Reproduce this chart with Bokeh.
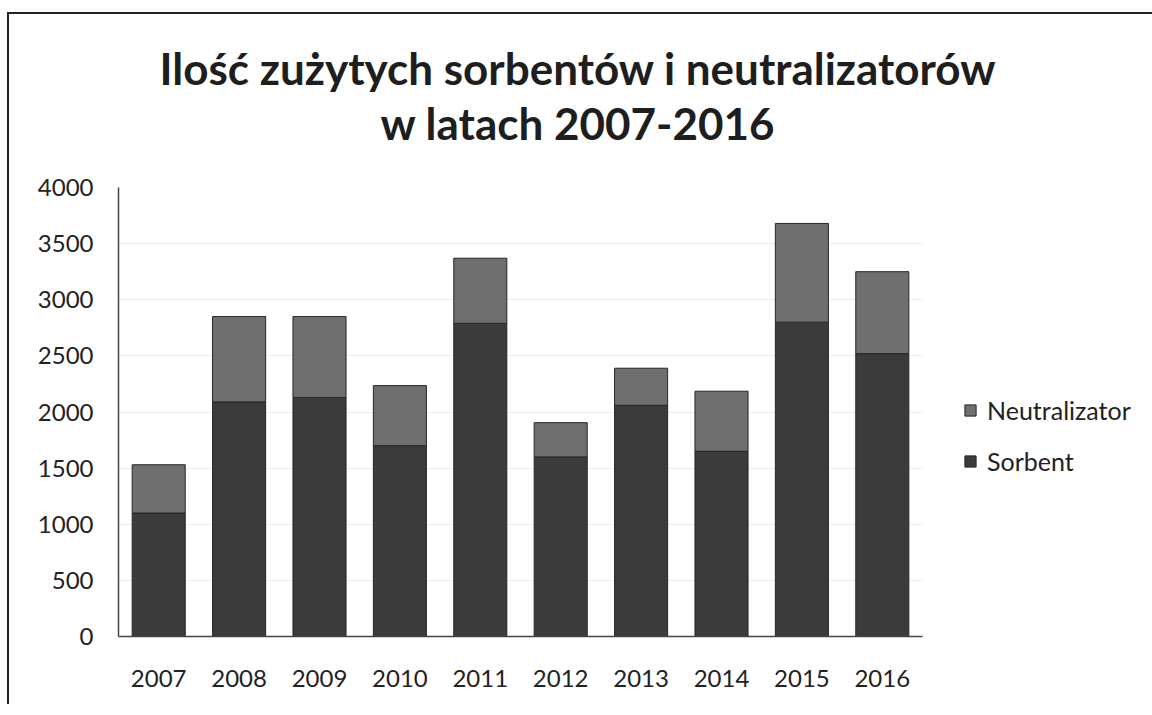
from bokeh.plotting import figure
from bokeh.models import ColumnDataSource, FactorRange, Range1d, Legend, LegendItem, Title
from bokeh.embed import file_html
from bokeh.resources import INLINE

years = ["2007", "2008", "2009", "2010", "2011", "2012", "2013", "2014", "2015", "2016"]
sorbent = [1100, 2090, 2130, 1700, 2790, 1600, 2060, 1650, 2800, 2520]
neutralizator_total = [1530, 2850, 2850, 2235, 3370, 1905, 2390, 2185, 3680, 3250]
neutralizator = [t - s for t, s in zip(neutralizator_total, sorbent)]
y_ticks = [0, 500, 1000, 1500, 2000, 2500, 3000, 3500, 4000]
title_line1 = "Ilość zużytych sorbentów i neutralizatorów"
title_line2 = "w latach 2007-2016"

FONT = "Lato"
SORB = "#3b3b3b"
NEUT = "#6f6f6f"

source = ColumnDataSource(dict(year=years, Sorbent=sorbent, Neutralizator=neutralizator))

p = figure(
    x_range=FactorRange(*years, range_padding=0),
    y_range=Range1d(0, 4000),
    frame_width=804, frame_height=449,
    output_backend="svg", toolbar_location=None,
    min_border_left=109, min_border_right=228, min_border_top=173, min_border_bottom=68,
    title=None,
    styles={"margin-left": "7px", "margin-top": "12px",
            "border-top": "2px solid #222", "border-left": "2px solid #222"},
)
p.background_fill_color = "white"
p.border_fill_color = "white"
p.outline_line_color = None

rs = p.vbar_stack(["Sorbent", "Neutralizator"], x="year", width=0.66, source=source,
                  fill_color=[SORB, NEUT], line_color="#262626", line_width=1)

p.yaxis.ticker = y_ticks
p.xgrid.grid_line_color = None
p.ygrid.grid_line_color = "#ececec"
for ax in (p.xaxis, p.yaxis):
    ax.axis_line_color = "#444444"
    ax.axis_line_width = 1.5
    ax.major_tick_line_color = None
    ax.minor_tick_line_color = None
    ax.major_label_text_font = FONT
    ax.major_label_text_font_size = "24px"
    ax.major_label_text_color = "#222222"
p.yaxis.major_label_standoff = 19
p.xaxis.major_label_standoff = 27

legend = Legend(items=[LegendItem(label="Neutralizator", renderers=[rs[1]]),
                       LegendItem(label="Sorbent", renderers=[rs[0]])],
                location=(41, 160), orientation="vertical",
                label_text_font=FONT, label_text_font_size="25px", label_text_color="#222222",
                glyph_width=14, glyph_height=14, label_height=25, label_standoff=10,
                spacing=21, border_line_color=None, background_fill_alpha=0, padding=0, margin=0)
p.add_layout(legend, "right")

p.add_layout(Title(text=title_line2, align="left", text_font=FONT, text_font_style="bold",
                   text_font_size="44px", text_color="#1e1e1e", offset=262, standoff=78), "above")
p.add_layout(Title(text=title_line1, align="left", text_font=FONT, text_font_style="bold",
                   text_font_size="44px", text_color="#1e1e1e", offset=41, standoff=-76), "above")

open("out.html", "w").write(file_html(p, INLINE))
